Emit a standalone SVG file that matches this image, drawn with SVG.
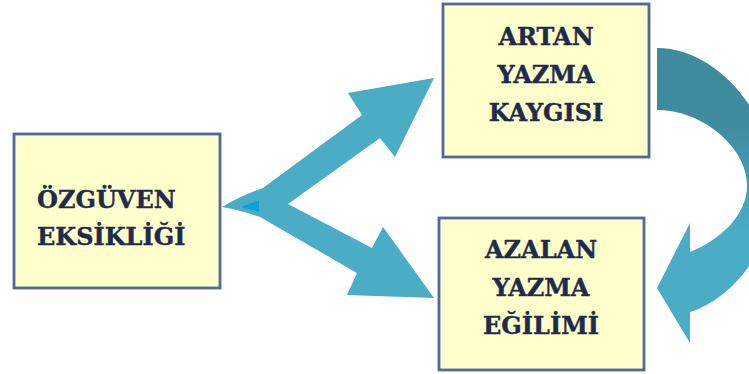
<svg xmlns="http://www.w3.org/2000/svg" width="749" height="374" viewBox="0 0 749 374">
<defs>
<style>
.box{fill:#FFFFCC;stroke:#50699A;stroke-width:2.8}
.lbl{font-family:"DejaVu Serif","Liberation Serif",serif;font-weight:bold;font-size:24px;fill:#1E2B4B;stroke:#1E2B4B;stroke-width:0.4}
.mid{text-anchor:middle}
</style>
<linearGradient id="curveGrad" gradientUnits="userSpaceOnUse" x1="0" y1="120" x2="0" y2="230">
<stop offset="0" stop-color="#3E8A9E"/>
<stop offset="1" stop-color="#4BACC6"/>
</linearGradient>
</defs>
<rect width="749" height="374" fill="#FFFFFF"/>
<g id="connectors">
<path id="fork" fill="#4BACC6" d="M222,207 Q240,196 263,188 L362,115 L348,93 L434,78 L395,157 L380,138 L288,204 L372,248 L383,227 L434,298 L347,295 L357,273 L260,217 Q240,210 222,207 Z"/>
<polygon fill="#0AA2DA" points="241,207 259,200 259,212"/>
<path id="cycle" fill="url(#curveGrad)" d="M657,48 C720,48 775,120 775,185 C775,250 730,300 690,312 L690,343 L657,288 L690,223 L690,252 C720,240 747,215 747,186 C748,150 705,110 657,110 Z"/>
</g>
<g id="ozguven">
<rect class="box" x="14" y="134" width="206" height="154"/>
<text class="lbl" x="37" y="208">ÖZGÜVEN</text>
<text class="lbl" x="37" y="245">EKSİKLİĞİ</text>
</g>
<g id="artan">
<rect class="box" x="443" y="4" width="206" height="153"/>
<text class="lbl mid" x="546" y="45">ARTAN</text>
<text class="lbl mid" x="546" y="83">YAZMA</text>
<text class="lbl mid" x="546" y="121">KAYGISI</text>
</g>
<g id="azalan">
<rect class="box" x="439" y="218" width="205" height="152"/>
<text class="lbl mid" x="541" y="258">AZALAN</text>
<text class="lbl mid" x="541" y="296">YAZMA</text>
<text class="lbl mid" x="541" y="334">EĞİLİMİ</text>
</g>
</svg>
